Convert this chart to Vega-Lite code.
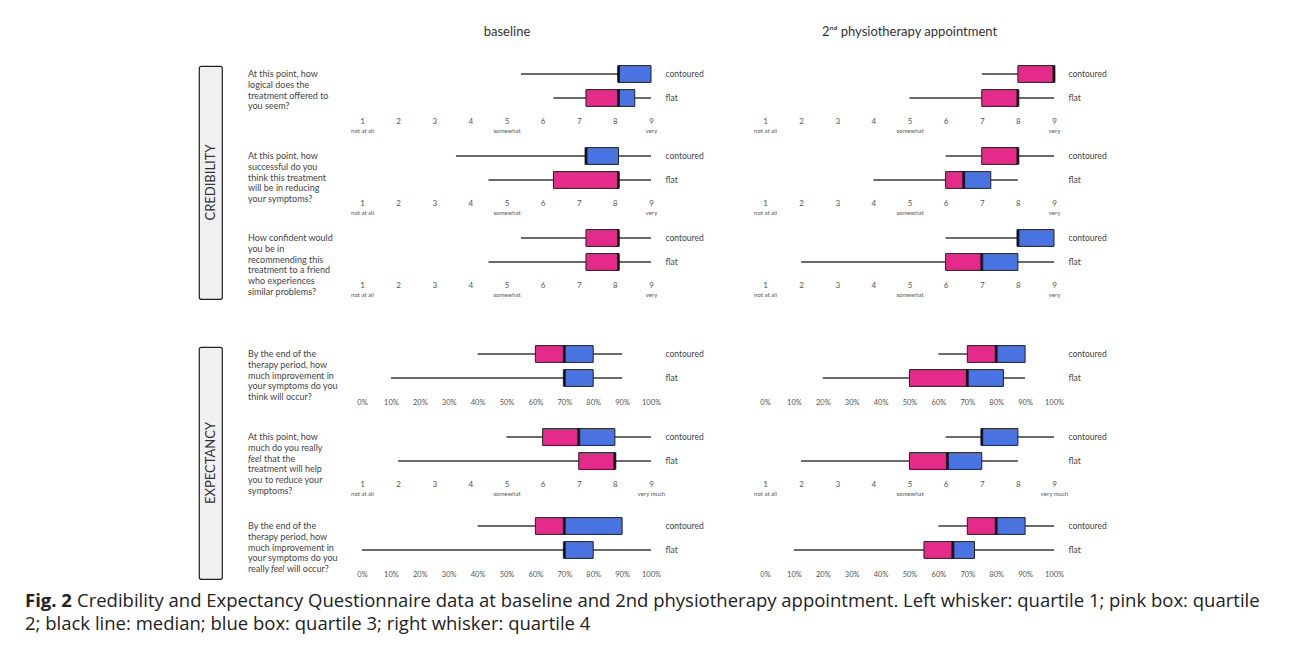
{
  "$schema": "https://vega.github.io/schema/vega-lite/v6.json",
  "padding": {"left": 25, "top": 22, "right": 5, "bottom": 5},
  "background": "white",
  "spacing": 0,
  "config": {
    "view": {"stroke": null},
    "font": "Lato",
    "axis": {"domain": false, "ticks": false, "grid": false, "labelColor": "#555", "labelFont": "Lato", "labelFlush": false, "labelOverlap": false},
    "text": {"font": "Lato"}
  },
  "vconcat": [
    {
      "hconcat": [
        {"width": 224, "height": 20, "data": {"values": []}, "mark": "point"},
        {"width": 289, "height": 20, "data": {"values": [{"t": "baseline"}]}, "mark": {"type": "text", "fontSize": 13, "color": "#333", "align": "center", "baseline": "middle"},
         "encoding": {"text": {"field": "t"}, "x": {"datum": 0, "type": "quantitative", "scale": {"domain": [-1, 1]}, "axis": null}, "y": {"datum": 0, "type": "quantitative", "scale": {"domain": [-1, 1]}, "axis": null}}},
        {"width": 289, "height": 20, "data": {"values": [{"t": "2ⁿᵈ physiotherapy appointment"}]}, "mark": {"type": "text", "fontSize": 13, "color": "#333", "align": "center", "baseline": "middle"},
         "encoding": {"text": {"field": "t"}, "x": {"datum": 0, "type": "quantitative", "scale": {"domain": [-1, 1]}, "axis": null}, "y": {"datum": 0, "type": "quantitative", "scale": {"domain": [-1, 1]}, "axis": null}}}
      ],
      "spacing": 113.5
    },
    {"width": 1, "height": 20, "data": {"values": []}, "mark": "point"},
    {
      "hconcat": [
        {"width": 148, "height": 1, "data": {"values": []}, "mark": "point"},
        {
          "vconcat": [
            {"width": 1, "height": 3, "data": {"values": []}, "mark": "point"},
            {"width": 23, "height": 233, "view": {"fill": "#f0f0f0", "stroke": "#222", "strokeWidth": 1.2, "cornerRadius": 2},
             "data": {"values": [{"t": "CREDIBILITY"}]}, "mark": {"type": "text", "angle": 270, "fontSize": 13, "color": "#333", "align": "center", "baseline": "middle"},
             "encoding": {"text": {"field": "t"}, "x": {"datum": 0, "type": "quantitative", "scale": {"domain": [-1, 1]}, "axis": null}, "y": {"datum": 0, "type": "quantitative", "scale": {"domain": [-1, 1]}, "axis": null}}}
          ],
          "spacing": 0
        },
        {
          "vconcat": [
            {
              "hconcat": [
                {"width": 100, "height": 48, "data": {"values": [{"line": 1, "t": "At this point, how"}, {"line": 2, "t": "logical does the"}, {"line": 3, "t": "treatment offered to"}, {"line": 4, "t": "you seem?"}]},
                 "mark": {"type": "text", "align": "left", "baseline": "middle", "fontSize": 9, "color": "#444"},
                 "encoding": {"text": {"field": "t"}, "x": {"value": 0}, "y": {"field": "line", "type": "quantitative", "scale": {"domain": [-0.15, 4.336], "range": [0, 48], "nice": false, "zero": false}, "axis": null}}},
                {"hconcat": [
                  {"width": 289, "height": 48,
                   "data": {"values": [{"group": "contoured", "min": 5.4, "q1": 8.1, "median": 8.1, "q3": 9, "max": 9}, {"group": "flat", "min": 6.3, "q1": 7.2, "median": 8.1, "q3": 8.55, "max": 9}]},
                   "encoding": {"y": {"field": "group", "type": "nominal", "sort": ["contoured", "flat"], "scale": {"paddingInner": 0.3, "paddingOuter": 0.15}, "axis": {"orient": "right", "title": null, "labelFontSize": 8.5, "labelColor": "#444", "labelPadding": 14}}},
                   "layer": [
                     {"mark": {"type": "rule", "color": "#3a3a3a", "strokeWidth": 1.3}, "encoding": {"x": {"field": "min", "type": "quantitative", "scale": {"domain": [1, 9], "nice": false, "zero": false}, "axis": {"orient": "bottom", "title": null, "values": [1, 2, 3, 4, 5, 6, 7, 8, 9], "labelFontSize": 8, "labelPadding": 7.5}}, "x2": {"field": "max"}}},
                     {"mark": {"type": "bar", "color": "#E42B8A", "stroke": "#222", "strokeWidth": 1}, "encoding": {"x": {"field": "q1", "type": "quantitative", "scale": {"domain": [1, 9], "nice": false, "zero": false}, "axis": {"orient": "bottom", "title": null, "values": [1, 5, 9], "labelExpr": "datum.value == 1 ? 'not at all' : datum.value == 5 ? 'somewhat' : 'very'", "labelFontSize": 6, "labelPadding": 17.5}}, "x2": {"field": "median"}}},
                     {"mark": {"type": "bar", "color": "#4873E1", "stroke": "#222", "strokeWidth": 1}, "encoding": {"x": {"field": "median", "type": "quantitative", "scale": {"domain": [1, 9], "nice": false, "zero": false}, "axis": null}, "x2": {"field": "q3"}}},
                     {"mark": {"type": "tick", "color": "#000", "thickness": 3, "size": 17}, "encoding": {"x": {"field": "median", "type": "quantitative", "scale": {"domain": [1, 9], "nice": false, "zero": false}, "axis": null}}}
                   ],
                   "resolve": {"axis": {"x": "independent"}}},
                  {"width": 289, "height": 48,
                   "data": {"values": [{"group": "contoured", "min": 7, "q1": 8, "median": 9, "q3": 9, "max": 9}, {"group": "flat", "min": 5, "q1": 7, "median": 8, "q3": 8, "max": 9}]},
                   "encoding": {"y": {"field": "group", "type": "nominal", "sort": ["contoured", "flat"], "scale": {"paddingInner": 0.3, "paddingOuter": 0.15}, "axis": {"orient": "right", "title": null, "labelFontSize": 8.5, "labelColor": "#444", "labelPadding": 14}}},
                   "layer": [
                     {"mark": {"type": "rule", "color": "#3a3a3a", "strokeWidth": 1.3}, "encoding": {"x": {"field": "min", "type": "quantitative", "scale": {"domain": [1, 9], "nice": false, "zero": false}, "axis": {"orient": "bottom", "title": null, "values": [1, 2, 3, 4, 5, 6, 7, 8, 9], "labelFontSize": 8, "labelPadding": 7.5}}, "x2": {"field": "max"}}},
                     {"mark": {"type": "bar", "color": "#E42B8A", "stroke": "#222", "strokeWidth": 1}, "encoding": {"x": {"field": "q1", "type": "quantitative", "scale": {"domain": [1, 9], "nice": false, "zero": false}, "axis": {"orient": "bottom", "title": null, "values": [1, 5, 9], "labelExpr": "datum.value == 1 ? 'not at all' : datum.value == 5 ? 'somewhat' : 'very'", "labelFontSize": 6, "labelPadding": 17.5}}, "x2": {"field": "median"}}},
                     {"mark": {"type": "bar", "color": "#4873E1", "stroke": "#222", "strokeWidth": 1}, "encoding": {"x": {"field": "median", "type": "quantitative", "scale": {"domain": [1, 9], "nice": false, "zero": false}, "axis": null}, "x2": {"field": "q3"}}},
                     {"mark": {"type": "tick", "color": "#000", "thickness": 3, "size": 17}, "encoding": {"x": {"field": "median", "type": "quantitative", "scale": {"domain": [1, 9], "nice": false, "zero": false}, "axis": null}}}
                   ],
                   "resolve": {"axis": {"x": "independent"}}}
                ], "spacing": 49}
              ],
              "spacing": 2
            },
            {
              "hconcat": [
                {"width": 100, "height": 48, "data": {"values": [{"line": 1, "t": "At this point, how"}, {"line": 2, "t": "successful do you"}, {"line": 3, "t": "think this treatment"}, {"line": 4, "t": "will be in reducing"}, {"line": 5, "t": "your symptoms?"}]},
                 "mark": {"type": "text", "align": "left", "baseline": "middle", "fontSize": 9, "color": "#444"},
                 "encoding": {"text": {"field": "t"}, "x": {"value": 0}, "y": {"field": "line", "type": "quantitative", "scale": {"domain": [-0.15, 4.336], "range": [0, 48], "nice": false, "zero": false}, "axis": null}}},
                {"hconcat": [
                  {"width": 289, "height": 48,
                   "data": {"values": [{"group": "contoured", "min": 3.6, "q1": 7.2, "median": 7.2, "q3": 8.1, "max": 9}, {"group": "flat", "min": 4.5, "q1": 6.3, "median": 8.1, "q3": 8.1, "max": 9}]},
                   "encoding": {"y": {"field": "group", "type": "nominal", "sort": ["contoured", "flat"], "scale": {"paddingInner": 0.3, "paddingOuter": 0.15}, "axis": {"orient": "right", "title": null, "labelFontSize": 8.5, "labelColor": "#444", "labelPadding": 14}}},
                   "layer": [
                     {"mark": {"type": "rule", "color": "#3a3a3a", "strokeWidth": 1.3}, "encoding": {"x": {"field": "min", "type": "quantitative", "scale": {"domain": [1, 9], "nice": false, "zero": false}, "axis": {"orient": "bottom", "title": null, "values": [1, 2, 3, 4, 5, 6, 7, 8, 9], "labelFontSize": 8, "labelPadding": 7.5}}, "x2": {"field": "max"}}},
                     {"mark": {"type": "bar", "color": "#E42B8A", "stroke": "#222", "strokeWidth": 1}, "encoding": {"x": {"field": "q1", "type": "quantitative", "scale": {"domain": [1, 9], "nice": false, "zero": false}, "axis": {"orient": "bottom", "title": null, "values": [1, 5, 9], "labelExpr": "datum.value == 1 ? 'not at all' : datum.value == 5 ? 'somewhat' : 'very'", "labelFontSize": 6, "labelPadding": 17.5}}, "x2": {"field": "median"}}},
                     {"mark": {"type": "bar", "color": "#4873E1", "stroke": "#222", "strokeWidth": 1}, "encoding": {"x": {"field": "median", "type": "quantitative", "scale": {"domain": [1, 9], "nice": false, "zero": false}, "axis": null}, "x2": {"field": "q3"}}},
                     {"mark": {"type": "tick", "color": "#000", "thickness": 3, "size": 17}, "encoding": {"x": {"field": "median", "type": "quantitative", "scale": {"domain": [1, 9], "nice": false, "zero": false}, "axis": null}}}
                   ],
                   "resolve": {"axis": {"x": "independent"}}},
                  {"width": 289, "height": 48,
                   "data": {"values": [{"group": "contoured", "min": 6, "q1": 7, "median": 8, "q3": 8, "max": 9}, {"group": "flat", "min": 4, "q1": 6, "median": 6.5, "q3": 7.25, "max": 8}]},
                   "encoding": {"y": {"field": "group", "type": "nominal", "sort": ["contoured", "flat"], "scale": {"paddingInner": 0.3, "paddingOuter": 0.15}, "axis": {"orient": "right", "title": null, "labelFontSize": 8.5, "labelColor": "#444", "labelPadding": 14}}},
                   "layer": [
                     {"mark": {"type": "rule", "color": "#3a3a3a", "strokeWidth": 1.3}, "encoding": {"x": {"field": "min", "type": "quantitative", "scale": {"domain": [1, 9], "nice": false, "zero": false}, "axis": {"orient": "bottom", "title": null, "values": [1, 2, 3, 4, 5, 6, 7, 8, 9], "labelFontSize": 8, "labelPadding": 7.5}}, "x2": {"field": "max"}}},
                     {"mark": {"type": "bar", "color": "#E42B8A", "stroke": "#222", "strokeWidth": 1}, "encoding": {"x": {"field": "q1", "type": "quantitative", "scale": {"domain": [1, 9], "nice": false, "zero": false}, "axis": {"orient": "bottom", "title": null, "values": [1, 5, 9], "labelExpr": "datum.value == 1 ? 'not at all' : datum.value == 5 ? 'somewhat' : 'very'", "labelFontSize": 6, "labelPadding": 17.5}}, "x2": {"field": "median"}}},
                     {"mark": {"type": "bar", "color": "#4873E1", "stroke": "#222", "strokeWidth": 1}, "encoding": {"x": {"field": "median", "type": "quantitative", "scale": {"domain": [1, 9], "nice": false, "zero": false}, "axis": null}, "x2": {"field": "q3"}}},
                     {"mark": {"type": "tick", "color": "#000", "thickness": 3, "size": 17}, "encoding": {"x": {"field": "median", "type": "quantitative", "scale": {"domain": [1, 9], "nice": false, "zero": false}, "axis": null}}}
                   ],
                   "resolve": {"axis": {"x": "independent"}}}
                ], "spacing": 49}
              ],
              "spacing": 2
            },
            {
              "hconcat": [
                {"width": 100, "height": 48, "data": {"values": [{"line": 1, "t": "How confident would"}, {"line": 2, "t": "you be in"}, {"line": 3, "t": "recommending this"}, {"line": 4, "t": "treatment to a friend"}, {"line": 5, "t": "who experiences"}, {"line": 6, "t": "similar problems?"}]},
                 "mark": {"type": "text", "align": "left", "baseline": "middle", "fontSize": 9, "color": "#444"},
                 "encoding": {"text": {"field": "t"}, "x": {"value": 0}, "y": {"field": "line", "type": "quantitative", "scale": {"domain": [-0.15, 4.336], "range": [0, 48], "nice": false, "zero": false}, "axis": null}}},
                {"hconcat": [
                  {"width": 289, "height": 48,
                   "data": {"values": [{"group": "contoured", "min": 5.4, "q1": 7.2, "median": 8.1, "q3": 8.1, "max": 9}, {"group": "flat", "min": 4.5, "q1": 7.2, "median": 8.1, "q3": 8.1, "max": 9}]},
                   "encoding": {"y": {"field": "group", "type": "nominal", "sort": ["contoured", "flat"], "scale": {"paddingInner": 0.3, "paddingOuter": 0.15}, "axis": {"orient": "right", "title": null, "labelFontSize": 8.5, "labelColor": "#444", "labelPadding": 14}}},
                   "layer": [
                     {"mark": {"type": "rule", "color": "#3a3a3a", "strokeWidth": 1.3}, "encoding": {"x": {"field": "min", "type": "quantitative", "scale": {"domain": [1, 9], "nice": false, "zero": false}, "axis": {"orient": "bottom", "title": null, "values": [1, 2, 3, 4, 5, 6, 7, 8, 9], "labelFontSize": 8, "labelPadding": 7.5}}, "x2": {"field": "max"}}},
                     {"mark": {"type": "bar", "color": "#E42B8A", "stroke": "#222", "strokeWidth": 1}, "encoding": {"x": {"field": "q1", "type": "quantitative", "scale": {"domain": [1, 9], "nice": false, "zero": false}, "axis": {"orient": "bottom", "title": null, "values": [1, 5, 9], "labelExpr": "datum.value == 1 ? 'not at all' : datum.value == 5 ? 'somewhat' : 'very'", "labelFontSize": 6, "labelPadding": 17.5}}, "x2": {"field": "median"}}},
                     {"mark": {"type": "bar", "color": "#4873E1", "stroke": "#222", "strokeWidth": 1}, "encoding": {"x": {"field": "median", "type": "quantitative", "scale": {"domain": [1, 9], "nice": false, "zero": false}, "axis": null}, "x2": {"field": "q3"}}},
                     {"mark": {"type": "tick", "color": "#000", "thickness": 3, "size": 17}, "encoding": {"x": {"field": "median", "type": "quantitative", "scale": {"domain": [1, 9], "nice": false, "zero": false}, "axis": null}}}
                   ],
                   "resolve": {"axis": {"x": "independent"}}},
                  {"width": 289, "height": 48,
                   "data": {"values": [{"group": "contoured", "min": 6, "q1": 8, "median": 8, "q3": 9, "max": 9}, {"group": "flat", "min": 2, "q1": 6, "median": 7, "q3": 8, "max": 9}]},
                   "encoding": {"y": {"field": "group", "type": "nominal", "sort": ["contoured", "flat"], "scale": {"paddingInner": 0.3, "paddingOuter": 0.15}, "axis": {"orient": "right", "title": null, "labelFontSize": 8.5, "labelColor": "#444", "labelPadding": 14}}},
                   "layer": [
                     {"mark": {"type": "rule", "color": "#3a3a3a", "strokeWidth": 1.3}, "encoding": {"x": {"field": "min", "type": "quantitative", "scale": {"domain": [1, 9], "nice": false, "zero": false}, "axis": {"orient": "bottom", "title": null, "values": [1, 2, 3, 4, 5, 6, 7, 8, 9], "labelFontSize": 8, "labelPadding": 7.5}}, "x2": {"field": "max"}}},
                     {"mark": {"type": "bar", "color": "#E42B8A", "stroke": "#222", "strokeWidth": 1}, "encoding": {"x": {"field": "q1", "type": "quantitative", "scale": {"domain": [1, 9], "nice": false, "zero": false}, "axis": {"orient": "bottom", "title": null, "values": [1, 5, 9], "labelExpr": "datum.value == 1 ? 'not at all' : datum.value == 5 ? 'somewhat' : 'very'", "labelFontSize": 6, "labelPadding": 17.5}}, "x2": {"field": "median"}}},
                     {"mark": {"type": "bar", "color": "#4873E1", "stroke": "#222", "strokeWidth": 1}, "encoding": {"x": {"field": "median", "type": "quantitative", "scale": {"domain": [1, 9], "nice": false, "zero": false}, "axis": null}, "x2": {"field": "q3"}}},
                     {"mark": {"type": "tick", "color": "#000", "thickness": 3, "size": 17}, "encoding": {"x": {"field": "median", "type": "quantitative", "scale": {"domain": [1, 9], "nice": false, "zero": false}, "axis": null}}}
                   ],
                   "resolve": {"axis": {"x": "independent"}}}
                ], "spacing": 49}
              ],
              "spacing": 2
            }
          ],
          "spacing": 10
        }
      ],
      "spacing": 25
    },
    {"width": 1, "height": 42, "data": {"values": []}, "mark": "point"},
    {
      "hconcat": [
        {"width": 148, "height": 1, "data": {"values": []}, "mark": "point"},
        {
          "vconcat": [
            {"width": 1, "height": 3.7, "data": {"values": []}, "mark": "point"},
            {"width": 23, "height": 232, "view": {"fill": "#f0f0f0", "stroke": "#222", "strokeWidth": 1.2, "cornerRadius": 2},
             "data": {"values": [{"t": "EXPECTANCY"}]}, "mark": {"type": "text", "angle": 270, "fontSize": 13, "color": "#333", "align": "center", "baseline": "middle"},
             "encoding": {"text": {"field": "t"}, "x": {"datum": 0, "type": "quantitative", "scale": {"domain": [-1, 1]}, "axis": null}, "y": {"datum": 0, "type": "quantitative", "scale": {"domain": [-1, 1]}, "axis": null}}}
          ],
          "spacing": 0
        },
        {
          "vconcat": [
            {
              "hconcat": [
                {"width": 100, "height": 48, "data": {"values": [{"line": 1, "t": "By the end of the"}, {"line": 2, "t": "therapy period, how"}, {"line": 3, "t": "much improvement in"}, {"line": 4, "t": "your symptoms do you"}, {"line": 5, "t": "think will occur?"}]},
                 "mark": {"type": "text", "align": "left", "baseline": "middle", "fontSize": 9, "color": "#444"},
                 "encoding": {"text": {"field": "t"}, "x": {"value": 0}, "y": {"field": "line", "type": "quantitative", "scale": {"domain": [-0.15, 4.336], "range": [0, 48], "nice": false, "zero": false}, "axis": null}}},
                {"hconcat": [
                  {"width": 289, "height": 48,
                   "data": {"values": [{"group": "contoured", "min": 40, "q1": 60, "median": 70, "q3": 80, "max": 90}, {"group": "flat", "min": 10, "q1": 70, "median": 70, "q3": 80, "max": 90}]},
                   "encoding": {"y": {"field": "group", "type": "nominal", "sort": ["contoured", "flat"], "scale": {"paddingInner": 0.3, "paddingOuter": 0.15}, "axis": {"orient": "right", "title": null, "labelFontSize": 8.5, "labelColor": "#444", "labelPadding": 14}}},
                   "layer": [
                     {"mark": {"type": "rule", "color": "#3a3a3a", "strokeWidth": 1.3}, "encoding": {"x": {"field": "min", "type": "quantitative", "scale": {"domain": [0, 100], "nice": false, "zero": false}, "axis": {"orient": "bottom", "title": null, "values": [0, 10, 20, 30, 40, 50, 60, 70, 80, 90, 100], "labelExpr": "datum.label + '%'", "labelFontSize": 7.5, "labelPadding": 8}}, "x2": {"field": "max"}}},
                     {"mark": {"type": "bar", "color": "#E42B8A", "stroke": "#222", "strokeWidth": 1}, "encoding": {"x": {"field": "q1", "type": "quantitative", "scale": {"domain": [0, 100], "nice": false, "zero": false}, "axis": {"orient": "bottom", "title": null, "values": [0], "labelExpr": "'not at all'", "labelColor": "rgba(0,0,0,0)", "labelFontSize": 6, "labelPadding": 17.5}}, "x2": {"field": "median"}}},
                     {"mark": {"type": "bar", "color": "#4873E1", "stroke": "#222", "strokeWidth": 1}, "encoding": {"x": {"field": "median", "type": "quantitative", "scale": {"domain": [0, 100], "nice": false, "zero": false}, "axis": null}, "x2": {"field": "q3"}}},
                     {"mark": {"type": "tick", "color": "#000", "thickness": 3, "size": 17}, "encoding": {"x": {"field": "median", "type": "quantitative", "scale": {"domain": [0, 100], "nice": false, "zero": false}, "axis": null}}}
                   ],
                   "resolve": {"axis": {"x": "independent"}}},
                  {"width": 289, "height": 48,
                   "data": {"values": [{"group": "contoured", "min": 60, "q1": 70, "median": 80, "q3": 90, "max": 90}, {"group": "flat", "min": 20, "q1": 50, "median": 70, "q3": 82.5, "max": 90}]},
                   "encoding": {"y": {"field": "group", "type": "nominal", "sort": ["contoured", "flat"], "scale": {"paddingInner": 0.3, "paddingOuter": 0.15}, "axis": {"orient": "right", "title": null, "labelFontSize": 8.5, "labelColor": "#444", "labelPadding": 14}}},
                   "layer": [
                     {"mark": {"type": "rule", "color": "#3a3a3a", "strokeWidth": 1.3}, "encoding": {"x": {"field": "min", "type": "quantitative", "scale": {"domain": [0, 100], "nice": false, "zero": false}, "axis": {"orient": "bottom", "title": null, "values": [0, 10, 20, 30, 40, 50, 60, 70, 80, 90, 100], "labelExpr": "datum.label + '%'", "labelFontSize": 7.5, "labelPadding": 8}}, "x2": {"field": "max"}}},
                     {"mark": {"type": "bar", "color": "#E42B8A", "stroke": "#222", "strokeWidth": 1}, "encoding": {"x": {"field": "q1", "type": "quantitative", "scale": {"domain": [0, 100], "nice": false, "zero": false}, "axis": {"orient": "bottom", "title": null, "values": [0], "labelExpr": "'not at all'", "labelColor": "rgba(0,0,0,0)", "labelFontSize": 6, "labelPadding": 17.5}}, "x2": {"field": "median"}}},
                     {"mark": {"type": "bar", "color": "#4873E1", "stroke": "#222", "strokeWidth": 1}, "encoding": {"x": {"field": "median", "type": "quantitative", "scale": {"domain": [0, 100], "nice": false, "zero": false}, "axis": null}, "x2": {"field": "q3"}}},
                     {"mark": {"type": "tick", "color": "#000", "thickness": 3, "size": 17}, "encoding": {"x": {"field": "median", "type": "quantitative", "scale": {"domain": [0, 100], "nice": false, "zero": false}, "axis": null}}}
                   ],
                   "resolve": {"axis": {"x": "independent"}}}
                ], "spacing": 49}
              ],
              "spacing": 2
            },
            {"width": 1, "height": 10.9, "data": {"values": []}, "mark": "point"},
            {
              "hconcat": [
                {"width": 100, "height": 48, "data": {"values": [{"line": 1, "t": "At this point, how", "p": "n"}, {"line": 2, "t": "much do you really", "p": "n"}, {"line": 3, "t": "feel", "p": "i"}, {"line": 3, "t": "that the", "p": "m"}, {"line": 4, "t": "treatment will help", "p": "n"}, {"line": 5, "t": "you to reduce your", "p": "n"}, {"line": 6, "t": "symptoms?", "p": "n"}]},
                 "encoding": {"text": {"field": "t"}, "x": {"value": 0}, "y": {"field": "line", "type": "quantitative", "scale": {"domain": [-0.15, 4.336], "range": [0, 48], "nice": false, "zero": false}, "axis": null}},
                 "layer": [
                   {"transform": [{"filter": "datum.p == 'n'"}], "mark": {"type": "text", "align": "left", "baseline": "middle", "fontSize": 9, "color": "#444"}},
                   {"transform": [{"filter": "datum.p == 'i'"}], "mark": {"type": "text", "align": "left", "baseline": "middle", "fontSize": 9, "color": "#444", "fontStyle": "italic"}},
                   {"transform": [{"filter": "datum.p == 'm'"}], "mark": {"type": "text", "align": "left", "baseline": "middle", "fontSize": 9, "color": "#444", "dx": 16}}
                 ]},
                {"hconcat": [
                  {"width": 289, "height": 48,
                   "data": {"values": [{"group": "contoured", "min": 5, "q1": 6, "median": 7, "q3": 8, "max": 9}, {"group": "flat", "min": 2, "q1": 7, "median": 8, "q3": 8, "max": 9}]},
                   "encoding": {"y": {"field": "group", "type": "nominal", "sort": ["contoured", "flat"], "scale": {"paddingInner": 0.3, "paddingOuter": 0.15}, "axis": {"orient": "right", "title": null, "labelFontSize": 8.5, "labelColor": "#444", "labelPadding": 14}}},
                   "layer": [
                     {"mark": {"type": "rule", "color": "#3a3a3a", "strokeWidth": 1.3}, "encoding": {"x": {"field": "min", "type": "quantitative", "scale": {"domain": [1, 9], "nice": false, "zero": false}, "axis": {"orient": "bottom", "title": null, "values": [1, 2, 3, 4, 5, 6, 7, 8, 9], "labelFontSize": 8, "labelPadding": 7.5}}, "x2": {"field": "max"}}},
                     {"mark": {"type": "bar", "color": "#E42B8A", "stroke": "#222", "strokeWidth": 1}, "encoding": {"x": {"field": "q1", "type": "quantitative", "scale": {"domain": [1, 9], "nice": false, "zero": false}, "axis": {"orient": "bottom", "title": null, "values": [1, 5, 9], "labelExpr": "datum.value == 1 ? 'not at all' : datum.value == 5 ? 'somewhat' : 'very much'", "labelFontSize": 6, "labelPadding": 17.5}}, "x2": {"field": "median"}}},
                     {"mark": {"type": "bar", "color": "#4873E1", "stroke": "#222", "strokeWidth": 1}, "encoding": {"x": {"field": "median", "type": "quantitative", "scale": {"domain": [1, 9], "nice": false, "zero": false}, "axis": null}, "x2": {"field": "q3"}}},
                     {"mark": {"type": "tick", "color": "#000", "thickness": 3, "size": 17}, "encoding": {"x": {"field": "median", "type": "quantitative", "scale": {"domain": [1, 9], "nice": false, "zero": false}, "axis": null}}}
                   ],
                   "resolve": {"axis": {"x": "independent"}}},
                  {"width": 289, "height": 48,
                   "data": {"values": [{"group": "contoured", "min": 6, "q1": 7, "median": 7, "q3": 8, "max": 9}, {"group": "flat", "min": 2, "q1": 5, "median": 6.05, "q3": 7, "max": 8}]},
                   "encoding": {"y": {"field": "group", "type": "nominal", "sort": ["contoured", "flat"], "scale": {"paddingInner": 0.3, "paddingOuter": 0.15}, "axis": {"orient": "right", "title": null, "labelFontSize": 8.5, "labelColor": "#444", "labelPadding": 14}}},
                   "layer": [
                     {"mark": {"type": "rule", "color": "#3a3a3a", "strokeWidth": 1.3}, "encoding": {"x": {"field": "min", "type": "quantitative", "scale": {"domain": [1, 9], "nice": false, "zero": false}, "axis": {"orient": "bottom", "title": null, "values": [1, 2, 3, 4, 5, 6, 7, 8, 9], "labelFontSize": 8, "labelPadding": 7.5}}, "x2": {"field": "max"}}},
                     {"mark": {"type": "bar", "color": "#E42B8A", "stroke": "#222", "strokeWidth": 1}, "encoding": {"x": {"field": "q1", "type": "quantitative", "scale": {"domain": [1, 9], "nice": false, "zero": false}, "axis": {"orient": "bottom", "title": null, "values": [1, 5, 9], "labelExpr": "datum.value == 1 ? 'not at all' : datum.value == 5 ? 'somewhat' : 'very much'", "labelFontSize": 6, "labelPadding": 17.5}}, "x2": {"field": "median"}}},
                     {"mark": {"type": "bar", "color": "#4873E1", "stroke": "#222", "strokeWidth": 1}, "encoding": {"x": {"field": "median", "type": "quantitative", "scale": {"domain": [1, 9], "nice": false, "zero": false}, "axis": null}, "x2": {"field": "q3"}}},
                     {"mark": {"type": "tick", "color": "#000", "thickness": 3, "size": 17}, "encoding": {"x": {"field": "median", "type": "quantitative", "scale": {"domain": [1, 9], "nice": false, "zero": false}, "axis": null}}}
                   ],
                   "resolve": {"axis": {"x": "independent"}}}
                ], "spacing": 49}
              ],
              "spacing": 2
            },
            {"width": 1, "height": 17, "data": {"values": []}, "mark": "point"},
            {
              "hconcat": [
                {"width": 100, "height": 48, "data": {"values": [{"line": 1, "t": "By the end of the", "p": "n"}, {"line": 2, "t": "therapy period, how", "p": "n"}, {"line": 3, "t": "much improvement in", "p": "n"}, {"line": 4, "t": "your symptoms do you", "p": "n"}, {"line": 5, "t": "really", "p": "n"}, {"line": 5, "t": "feel", "p": "i"}, {"line": 5, "t": "will occur?", "p": "m"}]},
                 "encoding": {"text": {"field": "t"}, "x": {"value": 0}, "y": {"field": "line", "type": "quantitative", "scale": {"domain": [-0.15, 4.336], "range": [0, 48], "nice": false, "zero": false}, "axis": null}},
                 "layer": [
                   {"transform": [{"filter": "datum.p == 'n'"}], "mark": {"type": "text", "align": "left", "baseline": "middle", "fontSize": 9, "color": "#444"}},
                   {"transform": [{"filter": "datum.p == 'i'"}], "mark": {"type": "text", "align": "left", "baseline": "middle", "fontSize": 9, "color": "#444", "fontStyle": "italic", "dx": 23}},
                   {"transform": [{"filter": "datum.p == 'm'"}], "mark": {"type": "text", "align": "left", "baseline": "middle", "fontSize": 9, "color": "#444", "dx": 39}}
                 ]},
                {"hconcat": [
                  {"width": 289, "height": 48,
                   "data": {"values": [{"group": "contoured", "min": 40, "q1": 60, "median": 70, "q3": 90, "max": 90}, {"group": "flat", "min": 0, "q1": 70, "median": 70, "q3": 80, "max": 100}]},
                   "encoding": {"y": {"field": "group", "type": "nominal", "sort": ["contoured", "flat"], "scale": {"paddingInner": 0.3, "paddingOuter": 0.15}, "axis": {"orient": "right", "title": null, "labelFontSize": 8.5, "labelColor": "#444", "labelPadding": 14}}},
                   "layer": [
                     {"mark": {"type": "rule", "color": "#3a3a3a", "strokeWidth": 1.3}, "encoding": {"x": {"field": "min", "type": "quantitative", "scale": {"domain": [0, 100], "nice": false, "zero": false}, "axis": {"orient": "bottom", "title": null, "values": [0, 10, 20, 30, 40, 50, 60, 70, 80, 90, 100], "labelExpr": "datum.label + '%'", "labelFontSize": 7.5, "labelPadding": 8}}, "x2": {"field": "max"}}},
                     {"mark": {"type": "bar", "color": "#E42B8A", "stroke": "#222", "strokeWidth": 1}, "encoding": {"x": {"field": "q1", "type": "quantitative", "scale": {"domain": [0, 100], "nice": false, "zero": false}, "axis": {"orient": "bottom", "title": null, "values": [0], "labelExpr": "'not at all'", "labelColor": "rgba(0,0,0,0)", "labelFontSize": 6, "labelPadding": 17.5}}, "x2": {"field": "median"}}},
                     {"mark": {"type": "bar", "color": "#4873E1", "stroke": "#222", "strokeWidth": 1}, "encoding": {"x": {"field": "median", "type": "quantitative", "scale": {"domain": [0, 100], "nice": false, "zero": false}, "axis": null}, "x2": {"field": "q3"}}},
                     {"mark": {"type": "tick", "color": "#000", "thickness": 3, "size": 17}, "encoding": {"x": {"field": "median", "type": "quantitative", "scale": {"domain": [0, 100], "nice": false, "zero": false}, "axis": null}}}
                   ],
                   "resolve": {"axis": {"x": "independent"}}},
                  {"width": 289, "height": 48,
                   "data": {"values": [{"group": "contoured", "min": 60, "q1": 70, "median": 80, "q3": 90, "max": 100}, {"group": "flat", "min": 10, "q1": 55, "median": 65, "q3": 72.5, "max": 100}]},
                   "encoding": {"y": {"field": "group", "type": "nominal", "sort": ["contoured", "flat"], "scale": {"paddingInner": 0.3, "paddingOuter": 0.15}, "axis": {"orient": "right", "title": null, "labelFontSize": 8.5, "labelColor": "#444", "labelPadding": 14}}},
                   "layer": [
                     {"mark": {"type": "rule", "color": "#3a3a3a", "strokeWidth": 1.3}, "encoding": {"x": {"field": "min", "type": "quantitative", "scale": {"domain": [0, 100], "nice": false, "zero": false}, "axis": {"orient": "bottom", "title": null, "values": [0, 10, 20, 30, 40, 50, 60, 70, 80, 90, 100], "labelExpr": "datum.label + '%'", "labelFontSize": 7.5, "labelPadding": 8}}, "x2": {"field": "max"}}},
                     {"mark": {"type": "bar", "color": "#E42B8A", "stroke": "#222", "strokeWidth": 1}, "encoding": {"x": {"field": "q1", "type": "quantitative", "scale": {"domain": [0, 100], "nice": false, "zero": false}, "axis": {"orient": "bottom", "title": null, "values": [0], "labelExpr": "'not at all'", "labelColor": "rgba(0,0,0,0)", "labelFontSize": 6, "labelPadding": 17.5}}, "x2": {"field": "median"}}},
                     {"mark": {"type": "bar", "color": "#4873E1", "stroke": "#222", "strokeWidth": 1}, "encoding": {"x": {"field": "median", "type": "quantitative", "scale": {"domain": [0, 100], "nice": false, "zero": false}, "axis": null}, "x2": {"field": "q3"}}},
                     {"mark": {"type": "tick", "color": "#000", "thickness": 3, "size": 17}, "encoding": {"x": {"field": "median", "type": "quantitative", "scale": {"domain": [0, 100], "nice": false, "zero": false}, "axis": null}}}
                   ],
                   "resolve": {"axis": {"x": "independent"}}}
                ], "spacing": 49}
              ],
              "spacing": 2
            }
          ],
          "spacing": 0
        }
      ],
      "spacing": 25
    },
    {"width": 1, "height": 3, "data": {"values": []}, "mark": "point"},
    {
      "width": 1240, "height": 46,
      "encoding": {"x": {"value": 0}, "y": {"field": "line", "type": "quantitative", "scale": {"domain": [0.5, 2.5], "range": [0, 46], "nice": false, "zero": false}, "axis": null}, "text": {"field": "t"}},
      "layer": [
        {"data": {"values": [{"line": 1, "t": "Fig. 2"}]}, "mark": {"type": "text", "align": "left", "baseline": "middle", "font": "Open Sans", "fontSize": 18.5, "fontWeight": "bold", "color": "#222"}},
        {"data": {"values": [{"line": 1, "t": "Credibility and Expectancy Questionnaire data at baseline and 2nd physiotherapy appointment. Left whisker: quartile 1; pink box: quartile"}]}, "mark": {"type": "text", "align": "left", "baseline": "middle", "font": "Open Sans", "fontSize": 18.5, "color": "#222", "dx": 52}},
        {"data": {"values": [{"line": 2, "t": "2; black line: median; blue box: quartile 3; right whisker: quartile 4"}]}, "mark": {"type": "text", "align": "left", "baseline": "middle", "font": "Open Sans", "fontSize": 18.5, "color": "#222"}}
      ]
    }
  ]
}
